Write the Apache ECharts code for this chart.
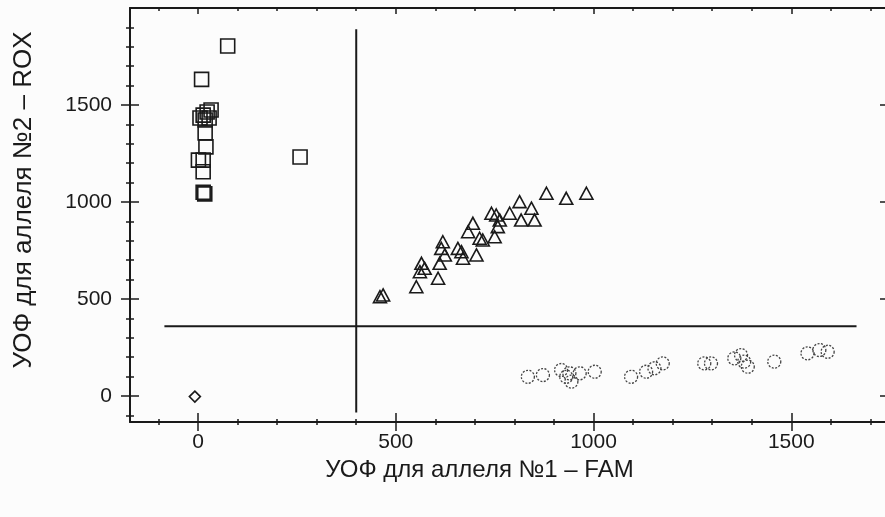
<!DOCTYPE html>
<html>
<head>
<meta charset="utf-8">
<script src="https://cdn.jsdelivr.net/npm/echarts@6/dist/echarts.min.js"></script>
<style>
  html, body { margin: 0; padding: 0; background: #fcfcfc; }
  #chart { width: 885px; height: 517px; }
</style>
</head>
<body>
<div id="chart"></div>
<script>
// allele groups: [FAM, ROX]
const squares = [
  [75, 1804], [9, 1632], [13, 1448], [23, 1464], [33, 1474], [28, 1433],
  [18, 1423], [5, 1433], [18, 1356], [20, 1284], [1, 1216], [13, 1216],
  [13, 1156], [13, 1050], [17, 1042], [258, 1232]
];
const triangles = [
  [460, 512], [468, 521], [552, 563], [565, 684], [573, 658], [561, 641],
  [607, 607], [611, 684], [619, 795], [615, 761], [624, 727], [657, 761],
  [666, 744], [670, 710], [704, 727], [683, 847], [695, 890], [712, 813],
  [720, 804], [750, 821], [758, 873], [742, 942], [754, 933], [763, 907],
  [788, 942], [813, 1002], [817, 907], [843, 968], [851, 907], [881, 1045],
  [931, 1019], [982, 1045]
];
const circles = [
  [834, 99], [872, 108], [918, 134], [931, 99], [944, 74], [939, 117],
  [965, 117], [1003, 125], [1095, 99], [1133, 125], [1154, 143], [1175, 168],
  [1280, 168], [1297, 168], [1356, 194], [1373, 211], [1390, 151], [1381, 177],
  [1457, 177], [1541, 220], [1571, 237], [1592, 228]
];
const diamonds = [[-8, -3]];

// cut-off lines
const vLine = [[400, -85], [400, 1890]];
const hLine = [[-85, 360], [1665, 360]];

const xMajor = [0, 500, 1000, 1500];
const xMinor = [-100, 100, 200, 300, 400, 600, 700, 800, 900, 1100, 1200, 1300, 1400, 1600, 1700];
const yMajor = [0, 500, 1000, 1500];
const yMinor = [-100, 100, 200, 300, 400, 600, 700, 800, 900, 1100, 1200, 1300, 1400, 1600, 1700, 1800, 1900];

const xRange = [-172, 1737];
const yRange = [-134, 2000];

const ink = '#1a1a1a';
const font = 'Liberation Sans';

function tickAxis(pos, range, values, len, inside, showLine) {
  return {
    type: 'value', position: pos, min: range[0], max: range[1],
    axisLine: { show: !!showLine, onZero: false, lineStyle: { color: ink, width: 2 } },
    axisTick: { show: true, inside: inside, length: len, customValues: values,
      lineStyle: { color: ink, width: 1.5 } },
    axisLabel: { show: false },
    splitLine: { show: false }
  };
}

const xMain = tickAxis('bottom', xRange, xMajor, 9, false, true);
xMain.axisLabel = { show: true, customValues: xMajor, margin: 10, color: ink,
  fontSize: 21, fontFamily: font, formatter: v => String(v) };
xMain.name = 'УОФ для аллеля №1 – FAM';
xMain.nameLocation = 'middle';
xMain.nameGap = 36;
xMain.nameTextStyle = { color: ink, fontSize: 24, fontFamily: font, padding: [0, 56, 0, 0] };

const yMain = tickAxis('left', yRange, yMajor, 9, false, true);
yMain.axisLabel = { show: true, customValues: yMajor, margin: 18, color: ink,
  fontSize: 21, fontFamily: font, formatter: v => String(v) };
yMain.name = 'УОФ для аллеля №2 – ROX';
yMain.nameLocation = 'middle';
yMain.nameGap = 93;
yMain.nameTextStyle = { color: ink, fontSize: 26, fontFamily: font, padding: [0, 0, 0, 30] };

function markers(data, symbol, size, dashed) {
  return {
    type: 'scatter', data: data, symbol: symbol, symbolSize: size,
    xAxisIndex: 0, yAxisIndex: 0,
    itemStyle: {
      color: 'rgba(0,0,0,0)', borderColor: dashed ? '#444' : ink,
      borderWidth: dashed ? 1.3 : 1.6, borderType: dashed ? [2, 1.5] : 'solid', opacity: 1
    }
  };
}

function cutLine(data) {
  return {
    type: 'line', data: data, symbol: 'none', silent: true,
    xAxisIndex: 0, yAxisIndex: 0,
    lineStyle: { color: ink, width: 2 }
  };
}

const option = {
  animation: false,
  backgroundColor: '#fcfcfc',
  grid: { left: 130, right: -1, top: 8, bottom: 95 },
  xAxis: [
    xMain,
    tickAxis('bottom', xRange, xMajor, 9, true),
    tickAxis('bottom', xRange, xMinor, 3, false),
    tickAxis('bottom', xRange, xMinor, 3, true),
    tickAxis('top', xRange, xMinor, 3, true, true),
    tickAxis('top', xRange, xMajor, 6, true)
  ],
  yAxis: [
    yMain,
    tickAxis('left', yRange, yMajor, 9, true),
    tickAxis('left', yRange, yMinor, 4, false),
    tickAxis('left', yRange, yMinor, 4, true),
    tickAxis('right', yRange, yMajor, 5, true)
  ],
  series: [
    cutLine(vLine),
    cutLine(hLine),
    markers(squares, 'rect', 14),
    markers(triangles, 'triangle', [13, 12]),
    markers(circles, 'circle', 13, true),
    markers(diamonds, 'diamond', 11)
  ]
};

echarts.init(document.getElementById('chart')).setOption(option);
</script>
</body>
</html>
